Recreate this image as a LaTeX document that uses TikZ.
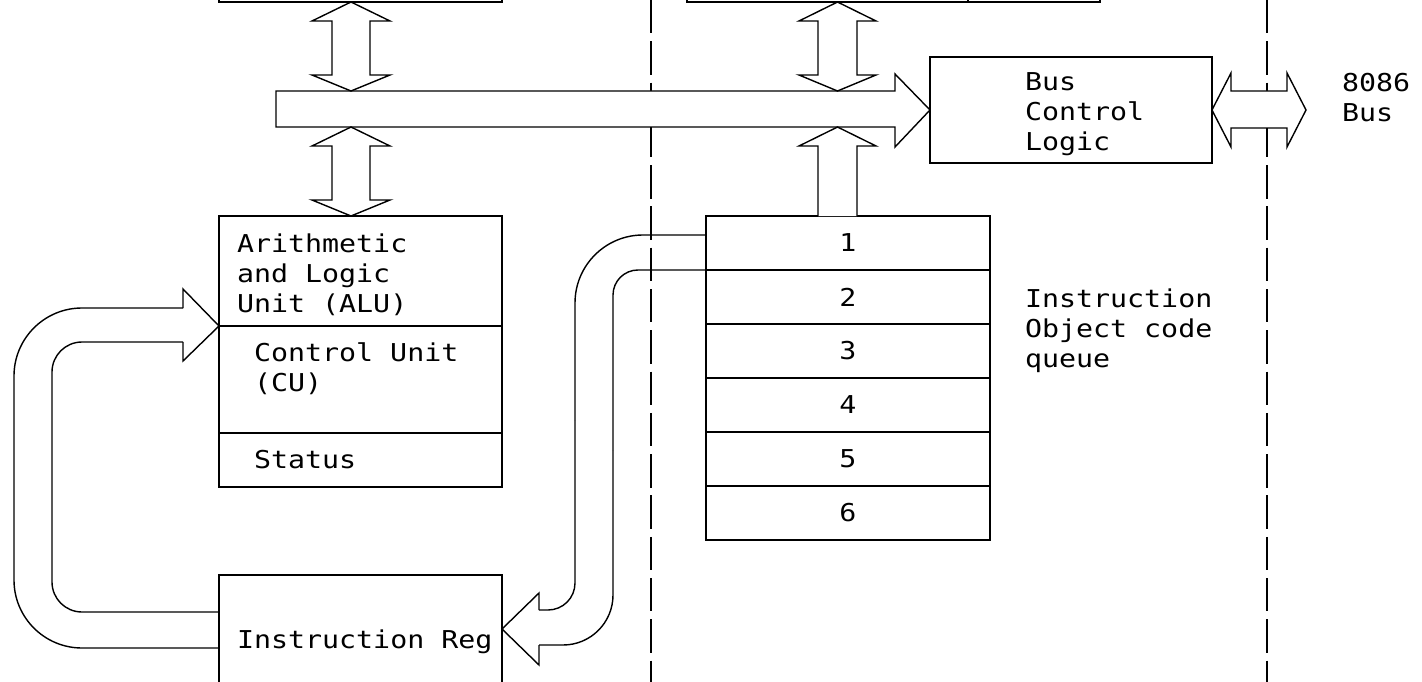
\documentclass[tikz,border=0pt]{standalone}
\usepackage{fontspec}
\newfontfamily\cadfont[FakeStretch=1.15]{DejaVu Sans Mono}
\begin{document}
\begin{tikzpicture}[x=0.02cm,y=-0.02cm, line width=0.8pt,
  box/.style={draw, rectangle, inner sep=0pt, outer sep=0pt, anchor=north west,
              font=\cadfont\fontsize{14pt}{17pt}\selectfont},
  lbl/.style={inner sep=0pt, outer sep=0pt, font=\cadfont\fontsize{14pt}{17pt}\selectfont,
              align=left, anchor=north west},
  fat/.style={draw, fill=white, line join=miter},
  bound/.style={dash pattern=on 19pt off 4.5pt}]
\useasboundingbox (0,0) rectangle (1422,682);
\clip (0,0) rectangle (1422,682);

% section boundaries
\draw[bound] (651,0) -- (651,682);
\draw[bound] (1267,0) -- (1267,682);

% boxes
\node[box, minimum width=5.66cm, minimum height=0.84cm] (regs) at (219,-40) {};
\node[box, minimum width=8.26cm, minimum height=0.84cm] (ptrs) at (687,-40) {};
\draw (968,-40) -- (968,2);
\node[box, minimum width=5.64cm, minimum height=2.12cm] (bcl) at (930,57) {};
\node[box, minimum width=5.66cm, minimum height=5.42cm] (alu) at (219,216) {};
\coordinate (d1) at (219,326);
\coordinate (d1e) at (502,326);
\coordinate (d2) at (219,433);
\coordinate (d2e) at (502,433);
\draw (d1) -- (d1e);
\draw (d2) -- (d2e);
\node[box, minimum width=5.66cm, minimum height=2.6cm] (ir) at (219,575) {};
\foreach \i in {1,...,6}
  \node[box, minimum width=5.68cm, minimum height=1.08cm] (q\i) at (706,{216+54*(\i-1)}) {\i};

% internal bus
\draw[fat] (276,91) -- (895,91) -- (895,74) -- (bcl.west) -- (895,147) -- (895,127) -- (276,127) -- cycle;

% double arrows
\draw[fat] (351,2) -- (390,21) -- (370,21) -- (370,75) -- (390,75) -- (351,91) -- (312,75) -- (332,75) -- (332,21) -- (312,21) -- cycle;
\draw[fat] (351,127) -- (390,146) -- (370,146) -- (370,200) -- (390,200) -- (351,216) -- (312,200) -- (332,200) -- (332,146) -- (312,146) -- cycle;
\draw[fat] (837.5,2) -- (876,21) -- (857,21) -- (857,75) -- (876,75) -- (837.5,91) -- (799,75) -- (818,75) -- (818,21) -- (799,21) -- cycle;
\draw[fat] (818,216) -- (818,146) -- (799,146) -- (837.5,127) -- (876,146) -- (857,146) -- (857,216);
\draw[fat] (bcl.east) -- (1231,73) -- (1231,91) -- (1287,91) -- (1287,73) -- (1306,110) -- (1287,147) -- (1287,128) -- (1231,128) -- (1231,147) -- cycle;

% queue -> instruction register
\draw[rounded corners=1.36cm] (706,235) -- (575,235) -- (575,420);
\draw[rounded corners=0.54cm] (575,420) -- (575,610) -- (539,610);
\draw[rounded corners=0.5cm] (706,270) -- (613,270) -- (613,450);
\draw[rounded corners=1.0cm] (613,450) -- (613,645) -- (539,645);
\coordinate (irin) at (502,629);
\draw (539,610) -- (539,593) -- (irin) -- (539,665) -- (539,645);

% instruction register -> ALU/CU
\draw[rounded corners=1.36cm] (219,648) -- (14,648) -- (14,308) -- (183,308);
\draw[rounded corners=0.6cm] (219,612) -- (52,612) -- (52,342) -- (183,342);
\draw (183,308) -- (183,289) -- (d1) -- (183,361) -- (183,342);

% labels
\node[lbl] (alut) at (237,234) {Arithmetic\\and Logic\\Unit (ALU)};
\node[lbl] (cut) at (254,343) {Control Unit\\(CU)};
\node[lbl, anchor=base west] (stt) at (254,468) {Status};
\node[lbl, anchor=base west] (irt) at (237,648) {Instruction Reg};
\node[lbl] (bclt) at (1025,73) {Bus\\Control\\Logic};
\node[lbl] (bust) at (1342,73) {8086\\Bus};
\node[lbl] (qt) at (1025,289) {Instruction\\Object code\\queue};
\end{tikzpicture}
\end{document}
